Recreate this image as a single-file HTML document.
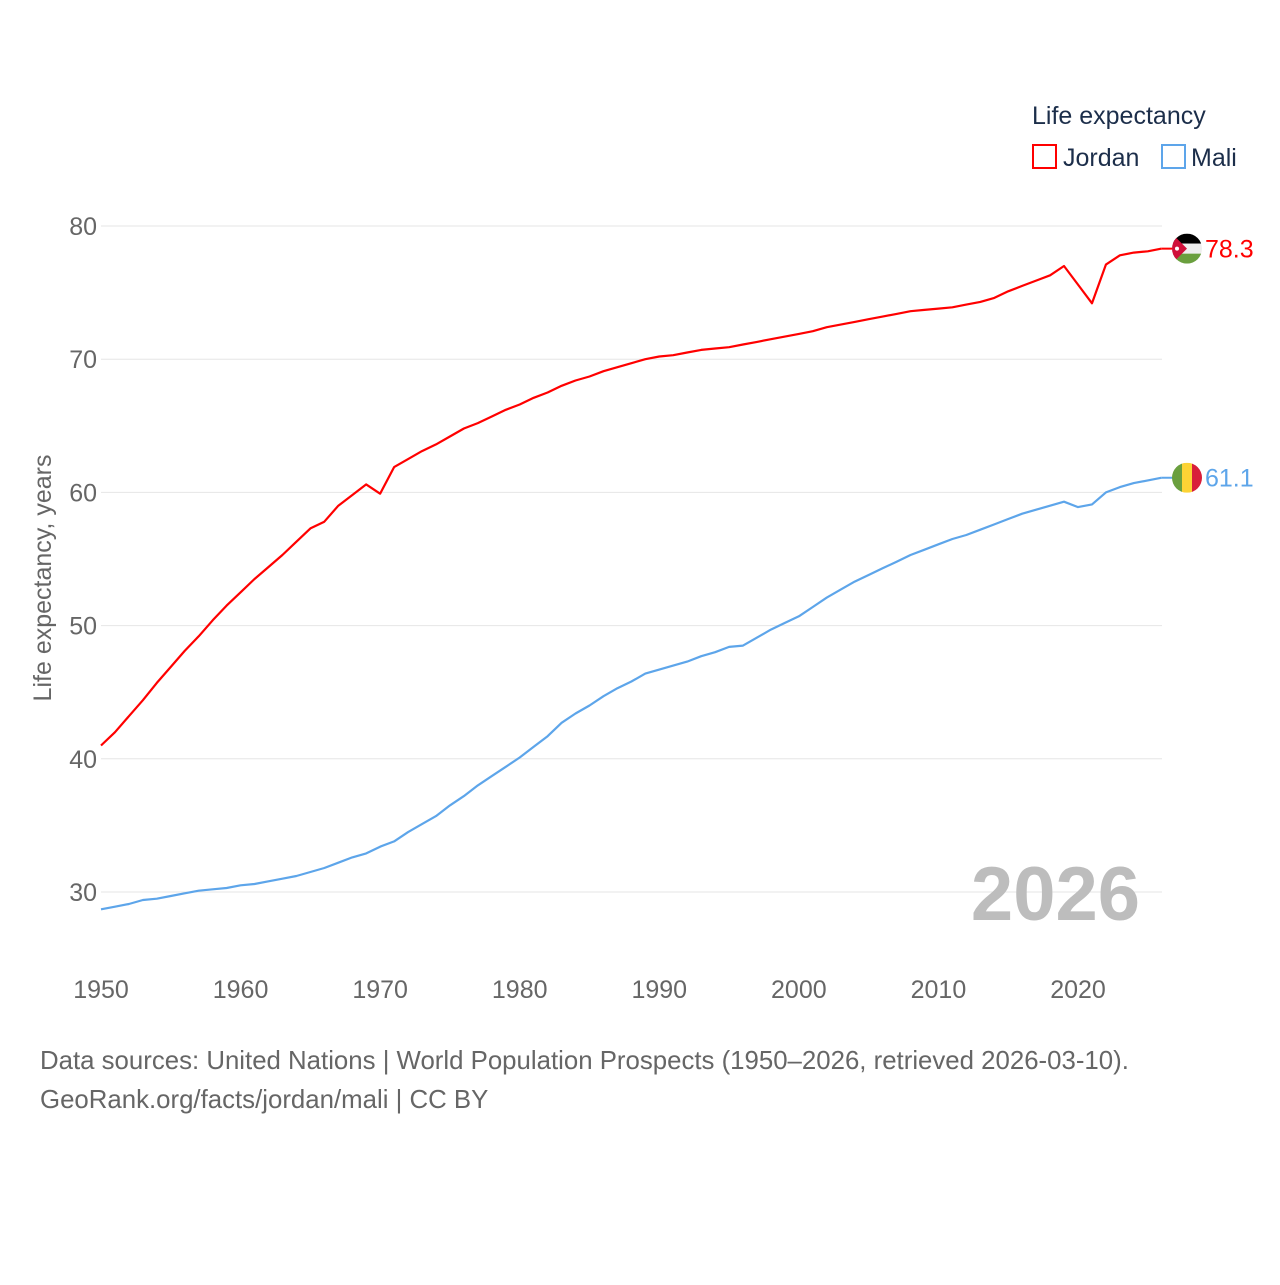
<!DOCTYPE html>
<html><head><meta charset="utf-8"><style>
body{margin:0;background:#fff;font-family:"Liberation Sans",sans-serif}
svg text{font-family:"Liberation Sans",sans-serif}
</style></head><body>
<svg id="chart" width="1280" height="1280" viewBox="0 0 1280 1280" xmlns="http://www.w3.org/2000/svg">
<rect width="1280" height="1280" fill="#fff"/>
<g id="grid"></g>
<g id="yticks"></g>
<g id="xticks"></g>
<text transform="translate(51,578) rotate(-90)" text-anchor="middle" font-size="25" fill="#666">Life expectancy, years</text>
<text x="1140" y="920" text-anchor="end" font-size="76" font-weight="bold" fill="#bdbdbd">2026</text>
<g id="lines"></g>
<g>
<text x="1032" y="124" font-size="25" fill="#1c2e4a">Life expectancy</text>
<g><rect x="1033" y="145" width="23" height="23" fill="none" stroke="#ff0000" stroke-width="2"/><text x="1063" y="166" font-size="25" fill="#1c2e4a">Jordan</text></g>
<g><rect x="1162" y="145" width="23" height="23" fill="none" stroke="#5da5ea" stroke-width="2"/><text x="1191" y="166" font-size="25" fill="#1c2e4a">Mali</text></g>
</g>
<g id="ends"></g>
<text x="40" y="1069" font-size="25.8" fill="#666">Data sources: United Nations | World Population Prospects (1950–2026, retrieved 2026-03-10).</text>
<text x="40" y="1108" font-size="25.8" fill="#666">GeoRank.org/facts/jordan/mali | CC BY</text>
</svg>
<script>
const years=[];for(let y=1950;y<=2026;y++)years.push(y);
const jordan=[41.0,42.0,43.2,44.4,45.7,46.9,48.1,49.2,50.4,51.5,52.5,53.5,54.4,55.3,56.3,57.3,57.8,59.0,59.8,60.6,59.9,61.9,62.5,63.1,63.6,64.2,64.8,65.2,65.7,66.2,66.6,67.1,67.5,68.0,68.4,68.7,69.1,69.4,69.7,70.0,70.2,70.3,70.5,70.7,70.8,70.9,71.1,71.3,71.5,71.7,71.9,72.1,72.4,72.6,72.8,73.0,73.2,73.4,73.6,73.7,73.8,73.9,74.1,74.3,74.6,75.1,75.5,75.9,76.3,77.0,75.6,74.2,77.1,77.8,78.0,78.1,78.3];
const mali=[28.7,28.9,29.1,29.4,29.5,29.7,29.9,30.1,30.2,30.3,30.5,30.6,30.8,31.0,31.2,31.5,31.8,32.2,32.6,32.9,33.4,33.8,34.5,35.1,35.7,36.5,37.2,38.0,38.7,39.4,40.1,40.9,41.7,42.7,43.4,44.0,44.7,45.3,45.8,46.4,46.7,47.0,47.3,47.7,48.0,48.4,48.5,49.1,49.7,50.2,50.7,51.4,52.1,52.7,53.3,53.8,54.3,54.8,55.3,55.7,56.1,56.5,56.8,57.2,57.6,58.0,58.4,58.7,59.0,59.3,58.9,59.1,60.0,60.4,60.7,60.9,61.1];
const yTicks=[30,40,50,60,70,80];
const xTicks=[1950,1960,1970,1980,1990,2000,2010,2020];
const NS="http://www.w3.org/2000/svg";
const X=y=>101+(y-1950)*(977/70);
const Y=v=>226+(80-v)*13.32;
function mk(t,a,p){const e=document.createElementNS(NS,t);for(const k in a)e.setAttribute(k,a[k]);p.appendChild(e);return e;}
const grid=document.getElementById('grid'),yt=document.getElementById('yticks'),xt=document.getElementById('xticks');
yTicks.forEach(v=>{
 const l=mk('line',{x1:101,x2:1162,y1:Y(v),y2:Y(v),stroke:'#e6e6e6','stroke-width':1},grid);
 
 
 const t=mk('text',{x:97,y:Y(v)+9,'text-anchor':'end','font-size':25,fill:'#666'},yt);t.textContent=v;
 
 
});
xTicks.forEach(v=>{
 const t=mk('text',{x:X(v),y:998,'text-anchor':'middle','font-size':25,fill:'#666'},xt);t.textContent=v;
 
 
});
const lines=document.getElementById('lines');
function draw(vals,color,name){
 const d=vals.map((v,i)=>(i?'L':'M')+X(years[i]).toFixed(1)+' '+Y(v).toFixed(1)).join(' ');
 const p=mk('path',{d:d,fill:'none',stroke:color,'stroke-width':2.2,'stroke-linejoin':'round'},lines);
 
 
}
draw(jordan,'#ff0000','jordan-line');
draw(mali,'#5da5ea','mali-line');
const ends=document.getElementById('ends');
const cx=1187;
const jy=Y(jordan[jordan.length-1]);
mk('line',{x1:X(2026),x2:cx-14,y1:jy,y2:jy,stroke:'#ff0000','stroke-width':2},ends);
const fj=mk('g',{},ends);


const cj=mk('clipPath',{id:'cj'},fj);mk('circle',{cx:cx,cy:jy,r:15},cj);
const gj=mk('g',{'clip-path':'url(#cj)'},fj);
mk('rect',{x:cx-15,y:jy-15,width:30,height:10,fill:'#000'},gj);
mk('rect',{x:cx-15,y:jy-5,width:30,height:10,fill:'#eee'},gj);
mk('rect',{x:cx-15,y:jy+5,width:30,height:10,fill:'#6a9f3e'},gj);
mk('polygon',{points:`${cx-15},${jy-15} ${cx},${jy} ${cx-15},${jy+15}`,fill:'#d0103a'},gj);
mk('circle',{cx:cx-10,cy:jy,r:2,fill:'#fff'},gj);
const tj=mk('text',{x:1205,y:jy+9,'font-size':25,fill:'#ff0000'},ends);tj.textContent=jordan[jordan.length-1].toFixed(1);


const my=Y(mali[mali.length-1]);
mk('line',{x1:X(2026),x2:cx-14,y1:my,y2:my,stroke:'#5da5ea','stroke-width':2},ends);
const fm=mk('g',{},ends);


const cm=mk('clipPath',{id:'cm'},fm);mk('circle',{cx:cx,cy:my,r:15},cm);
const gm=mk('g',{'clip-path':'url(#cm)'},fm);
mk('rect',{x:cx-15,y:my-15,width:10,height:30,fill:'#6a9f3e'},gm);
mk('rect',{x:cx-5,y:my-15,width:10,height:30,fill:'#fcd335'},gm);
mk('rect',{x:cx+5,y:my-15,width:10,height:30,fill:'#d81e3a'},gm);
const tm=mk('text',{x:1205,y:my+9,'font-size':25,fill:'#5da5ea'},ends);tm.textContent=mali[mali.length-1].toFixed(1);


</script>
</body></html>
